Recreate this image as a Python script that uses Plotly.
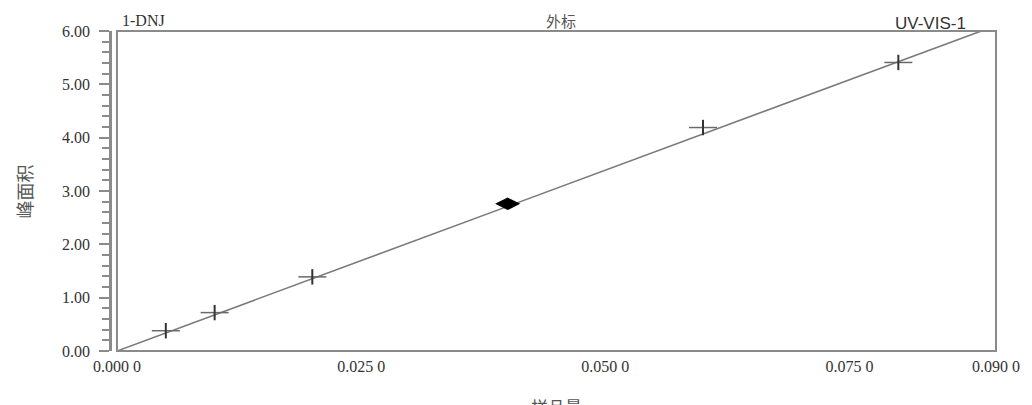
import plotly.graph_objects as go

# Calibration data
sample_amount = [0.005, 0.010, 0.020, 0.040, 0.060, 0.080]
peak_area = [0.38, 0.72, 1.39, 2.76, 4.19, 5.41]
highlight_index = 3

# Calibration line end points (through origin)
fit_x = [0.0, 0.0885]
fit_y = [0.0, 6.0]

x_tick_vals = [0.0, 0.025, 0.050, 0.075, 0.090]
x_tick_text = ["0.000 0", "0.025 0", "0.050 0", "0.075 0", "0.090 0"]
y_tick_vals = [0, 1, 2, 3, 4, 5, 6]

GRAY = "#8a8a8a"
TEXT = "#333333"
SERIF = "Liberation Serif, Times New Roman, serif"
CJK = "Noto Sans CJK SC"

# page body adds an 8 px margin, so the figure is a bit smaller than the window
W, H = 1024, 397
ML, MR, MT, MB = 102, 32, 23, 54
plot_w = W - ML - MR
plot_h = H - MT - MB

fig = go.Figure()

fig.add_trace(
    go.Scatter(
        x=fit_x,
        y=fit_y,
        mode="lines",
        line=dict(color="#7a7a7a", width=1.6),
        showlegend=False,
        hoverinfo="skip",
    )
)

normal_x = [v for i, v in enumerate(sample_amount) if i != highlight_index]
normal_y = [v for i, v in enumerate(peak_area) if i != highlight_index]

# Cross markers: long horizontal arm, short dark vertical arm
fig.add_trace(
    go.Scatter(
        x=normal_x,
        y=normal_y,
        mode="markers",
        marker=dict(symbol="line-ew", size=20, line=dict(color="#6a6a6a", width=1.5)),
        showlegend=False,
    )
)
fig.add_trace(
    go.Scatter(
        x=normal_x,
        y=normal_y,
        mode="markers",
        marker=dict(symbol="line-ns", size=11, line=dict(color="#333333", width=2)),
        showlegend=False,
    )
)
fig.add_trace(
    go.Scatter(
        x=[sample_amount[highlight_index]],
        y=[peak_area[highlight_index]],
        mode="markers",
        marker=dict(symbol="diamond-wide", size=18, color="black"),
        showlegend=False,
    )
)

# Plot frame
fig.add_shape(
    type="rect",
    xref="x domain",
    yref="y domain",
    x0=0,
    x1=1,
    y0=0,
    y1=1,
    line=dict(color=GRAY, width=2),
    layer="above",
)

fig.add_annotation(
    xref="x domain", yref="paper", x=0.003, y=1.0, yanchor="bottom", xanchor="left",
    text="1-DNJ", showarrow=False, font=dict(family=SERIF, size=16, color=TEXT),
)
fig.add_annotation(
    xref="x domain", yref="paper", x=0.505, y=1.0, yanchor="bottom", xanchor="center",
    text="外标", showarrow=False, font=dict(family=CJK, size=15, color="#555555"), yshift=-2,
)
fig.add_annotation(
    xref="x domain", yref="paper", x=0.968, y=1.0, yanchor="bottom", xanchor="right",
    text="UV-VIS-1", showarrow=False,
    font=dict(family="Liberation Sans, Arial, sans-serif", size=17, color=TEXT), yshift=-4,
)
fig.add_annotation(
    xref="x domain", yref="paper", x=0.5, y=-(41 / plot_h), yanchor="top", xanchor="center",
    text="样品量", showarrow=False, font=dict(family=CJK, size=17, color="#555555"),
)
fig.add_annotation(
    xref="paper", yref="paper", x=(16 - ML) / plot_w, y=0.5, textangle=-90,
    xanchor="center", yanchor="middle",
    text="峰面积", showarrow=False, font=dict(family=CJK, size=18, color="#555555"),
)

fig.update_layout(
    width=W,
    height=H,
    margin=dict(l=ML, r=MR, t=MT, b=MB),
    plot_bgcolor="white",
    paper_bgcolor="white",
    xaxis=dict(
        domain=[7 / plot_w, 1],
        range=[0, 0.09],
        tickvals=x_tick_vals,
        ticktext=x_tick_text,
        showgrid=False,
        zeroline=False,
        showline=False,
        ticks="",
        ticklabelstandoff=4,
        tickfont=dict(family=SERIF, size=16, color=TEXT),
    ),
    yaxis=dict(
        anchor="free",
        position=0,
        range=[0, 6],
        tickvals=y_tick_vals,
        tickformat=".2f",
        showgrid=False,
        zeroline=False,
        showline=True,
        linecolor=GRAY,
        linewidth=2.5,
        ticks="outside",
        ticklen=10,
        tickwidth=2,
        tickcolor=GRAY,
        ticklabelstandoff=6,
        minor=dict(dtick=0.2, ticks="outside", ticklen=7, tickwidth=1.5, tickcolor=GRAY),
        tickfont=dict(family=SERIF, size=16, color=TEXT),
    ),
)

fig.write_html("out.html")
